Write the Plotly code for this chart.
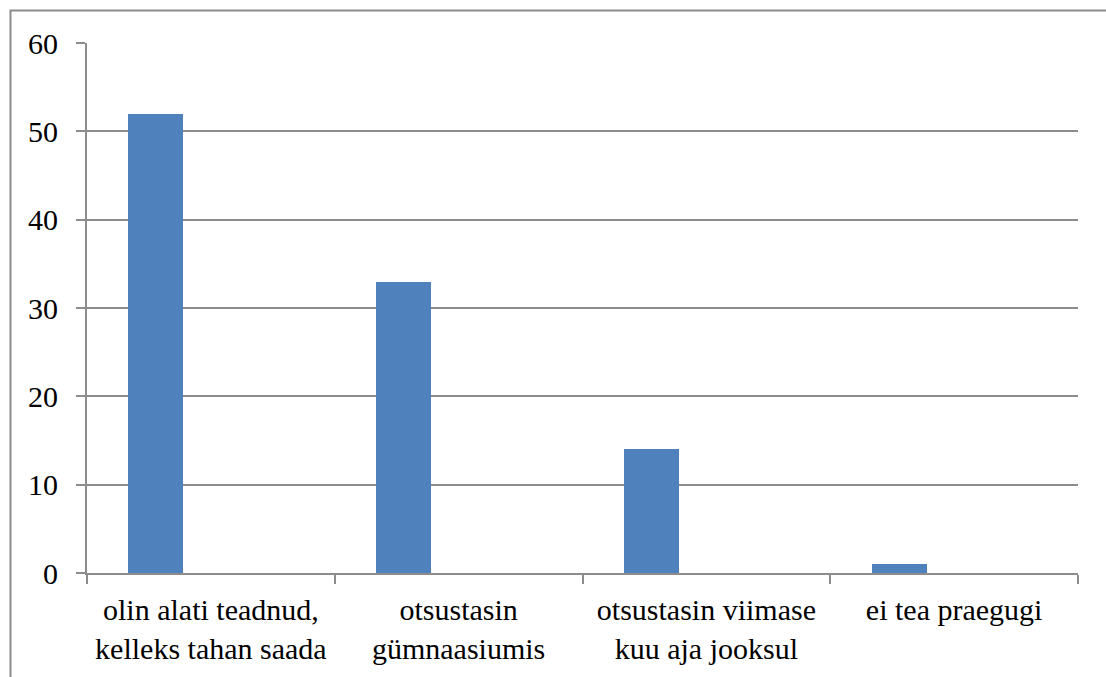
import plotly.graph_objects as go

categories = ["olin alati teadnud,<br>kelleks tahan saada",
              "otsustasin<br>gümnaasiumis",
              "otsustasin viimase<br>kuu aja jooksul",
              "ei tea praegugi"]
values = [52, 33, 14, 1]
y_ticks = [0, 10, 20, 30, 40, 50, 60]

BAR_COLOR = "#4F81BD"
GRID = "#8C8C8C"
FONT = "Times New Roman"
FSIZE = 30

fig = go.Figure()
fig.add_trace(go.Bar(
    x=categories, y=values,
    marker=dict(color=BAR_COLOR, line=dict(width=0)),
    width=2/9, offset=-1/3,
    showlegend=False,
))

fig.update_layout(
    template="none",
    width=1106, height=677,
    margin=dict(l=87, r=28, t=43, b=104, pad=0),
    plot_bgcolor="white", paper_bgcolor="white",
    font=dict(family=FONT, size=FSIZE, color="black"),
    bargap=0,
)
fig.update_xaxes(
    type="category", range=[-0.5, 3.5],
    showline=True, linecolor=GRID, linewidth=2,
    ticks="outside", tickson="boundaries", ticklen=9, tickcolor=GRID, tickwidth=2,
    showgrid=False, tickfont=dict(size=FSIZE, family=FONT, color="black"),
    ticklabelstandoff=9,
)
fig.update_yaxes(
    range=[0, 60], tickvals=y_ticks,
    showline=True, linecolor=GRID, linewidth=2,
    ticks="outside", ticklen=9, tickcolor=GRID, tickwidth=2,
    showgrid=True, gridcolor=GRID, gridwidth=2,
    zeroline=False, tickfont=dict(size=FSIZE, family=FONT, color="black"),
    ticklabelstandoff=12,
)

# outer chart frame (partly cropped on right/bottom)
fig.add_shape(type="rect", xref="paper", yref="paper",
              x0=(10.5 - 87) / 991, x1=1.2, y0=-0.4, y1=(573 - 10.5) / 530,
              line=dict(color=GRID, width=2), fillcolor="rgba(0,0,0,0)", layer="below")

fig.write_html("out.html", config={"displayModeBar": False},
               post_script="document.body.style.margin='0';document.body.style.padding='0';")
